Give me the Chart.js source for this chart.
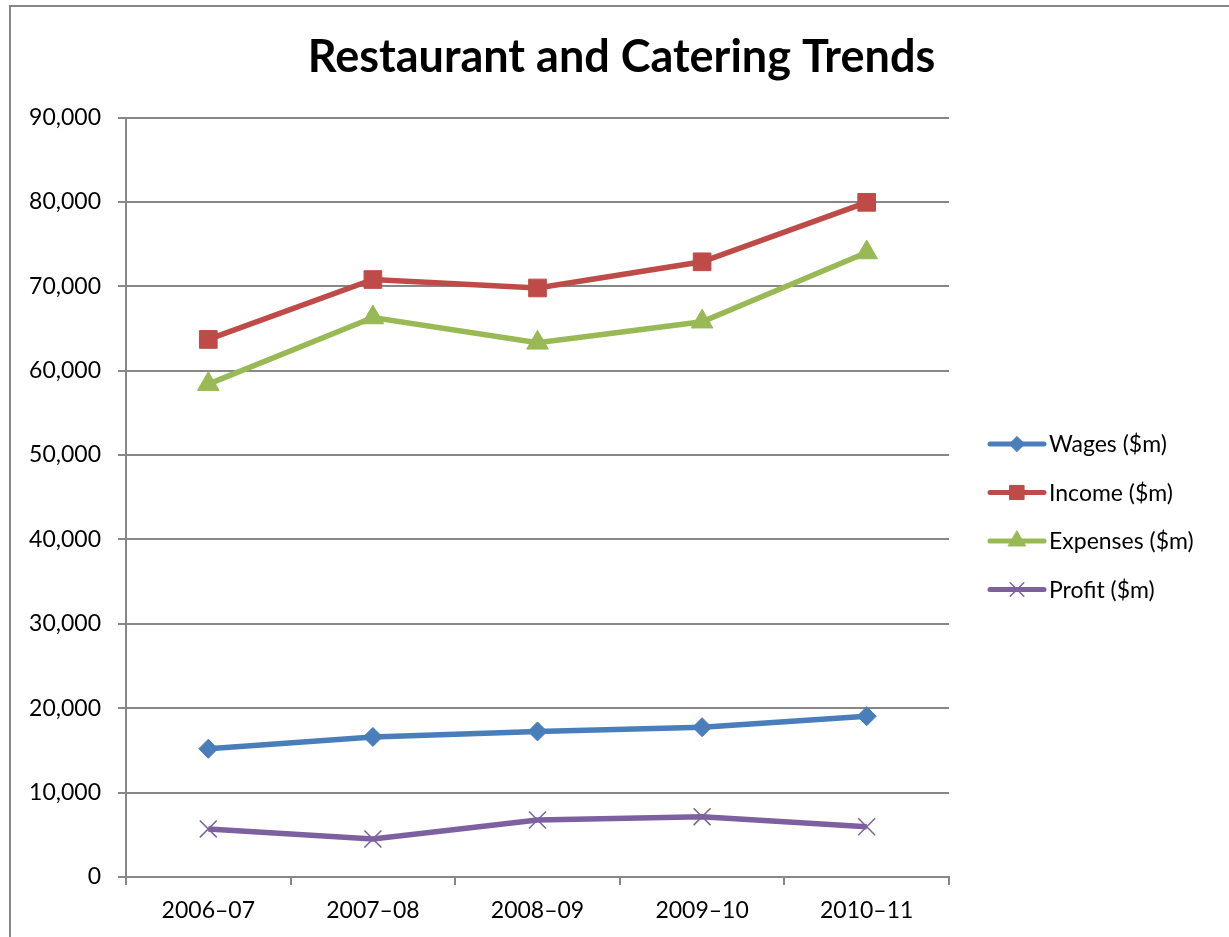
<!DOCTYPE html>
<html>
<head>
<meta charset="utf-8">
<script src="https://cdn.jsdelivr.net/npm/chart.js@4/dist/chart.umd.min.js"></script>
<style>
  html, body { margin: 0; padding: 0; background: #fff; overflow: hidden; }
  #wrap { width: 1229px; height: 937px; position: relative; }
</style>
</head>
<body>
<div id="wrap"><canvas id="trendChart"></canvas></div>
<script>
// Data
const years = ["2006–07", "2007–08", "2008–09", "2009–10", "2010–11"];
const wages = [15200, 16600, 17250, 17750, 19050];
const income = [63700, 70800, 69800, 72900, 79950];
const expenses = [58400, 66300, 63300, 65800, 74000];
const profit = [5700, 4500, 6750, 7150, 5950];

const FONT = "Lato, 'Liberation Sans', sans-serif";
const GRID = "#878787";

// Frame around the chart (left and top edges visible)
const framePlugin = {
  id: "frame",
  beforeDraw(chart) {
    const c = chart.ctx;
    c.save();
    c.fillStyle = "#fff";
    c.fillRect(0, 0, chart.width, chart.height);
    c.strokeStyle = GRID;
    c.lineWidth = 2;
    c.strokeRect(10, 6, chart.width + 20, chart.height + 20);
    c.restore();
  }
};

// Legend on the right: line sample with marker, then label
const sideLegend = {
  id: "sideLegend",
  afterDraw(chart) {
    const c = chart.ctx;
    c.save();
    chart.data.datasets.forEach(function(ds, i) {
      const y = 444 + i * 48.5;
      c.strokeStyle = ds.borderColor;
      c.lineWidth = 5;
      c.lineCap = "round";
      c.beginPath();
      c.moveTo(990, y);
      c.lineTo(1044, y);
      c.stroke();
      c.fillStyle = ds.pointBackgroundColor;
      c.strokeStyle = ds.pointBorderColor;
      c.lineWidth = ds.pointBorderWidth;
      Chart.helpers.drawPoint(c, {
        pointStyle: ds.pointStyle,
        radius: ds.legendRadius,
        rotation: 0,
        borderWidth: ds.pointBorderWidth
      }, 1017, y);
      c.fillStyle = "#000";
      c.font = "23px " + FONT;
      c.textAlign = "left";
      c.textBaseline = "middle";
      c.fillText(ds.label, 1049, y + 1);
    });
    c.restore();
  }
};

function series(label, values, color, style, radius, border) {
  return {
    label: label,
    data: values,
    yAxisID: "y",
    borderColor: color,
    backgroundColor: color,
    borderWidth: 5.5,
    tension: 0,
    pointStyle: style,
    pointRadius: radius,
    pointHoverRadius: radius,
    pointBackgroundColor: color,
    pointBorderColor: color,
    pointBorderWidth: border,
    legendRadius: radius * 0.8
  };
}

const ctx = document.getElementById("trendChart").getContext("2d");

const trendChart = new Chart(ctx, {
  type: "line",
  data: {
    labels: years,
    datasets: [
      series("Wages ($m)", wages, "#4A7EBB", "rectRot", 9.5, 1),
      series("Income ($m)", income, "#BE4B48", "rect", 12.5, 1),
      series("Expenses ($m)", expenses, "#98B954", "triangle", 12.5, 1),
      series("Profit ($m)", profit, "#7D60A0", "crossRot", 12, 1.5)
    ]
  },
  plugins: [framePlugin, sideLegend],
  options: {
    responsive: true,
    maintainAspectRatio: false,
    animation: false,
    layout: { padding: { left: 14, right: 0, top: 0, bottom: 0 } },
    plugins: {
      legend: { display: false },
      tooltip: { enabled: false },
      title: {
        display: true,
        text: "Restaurant and Catering Trends",
        color: "#000",
        font: { family: FONT, size: 45, weight: "bold", lineHeight: 1.1 },
        padding: { top: 33, bottom: 35 }
      }
    },
    scales: {
      x: {
        offset: true,
        grid: {
          offset: true,
          drawOnChartArea: false,
          drawTicks: true,
          tickLength: 8,
          color: GRID,
          lineWidth: 2
        },
        border: { color: GRID, width: 2 },
        ticks: {
          color: "#000",
          font: { family: FONT, size: 23 },
          padding: 12,
          maxRotation: 0
        },
        afterFit(scale) { scale.height = 60; }
      },
      y: {
        position: "left",
        min: 0,
        max: 90000,
        grid: { color: GRID, lineWidth: 2, tickLength: 8 },
        border: { color: GRID, width: 2 },
        ticks: {
          stepSize: 10000,
          color: "#000",
          font: { family: FONT, size: 23 },
          padding: 17,
          callback: function(v) { return v.toLocaleString("en-US"); }
        },
        afterFit(scale) { scale.width = 112; }
      },
      // empty right-hand axis that reserves room for the legend
      legendSpace: {
        position: "right",
        display: true,
        grid: { display: false, drawTicks: false },
        border: { display: false },
        ticks: { display: false },
        afterFit(scale) { scale.width = 280; }
      }
    }
  }
});
</script>
</body>
</html>
